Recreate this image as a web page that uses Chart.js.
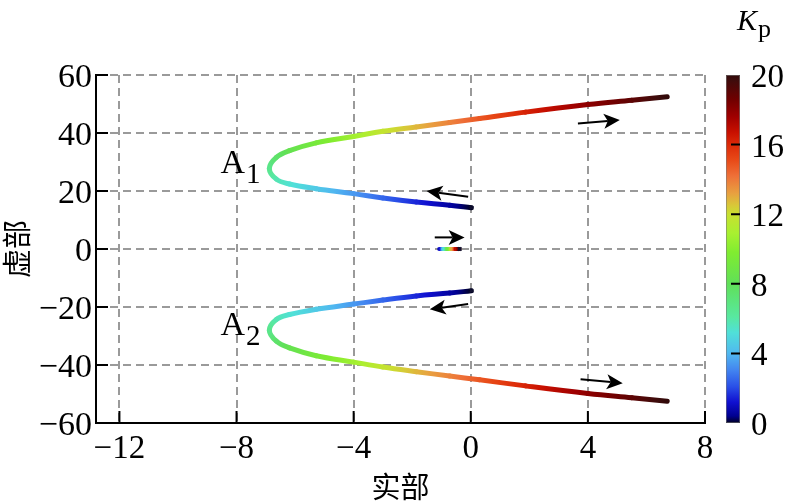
<!DOCTYPE html>
<html>
<head>
<meta charset="utf-8">
<script src="https://cdn.jsdelivr.net/npm/chart.js"></script>
<style>
  body { margin: 0; background: #fff; }
  #wrap { width: 789px; height: 504px; }
</style>
</head>
<body>
<div id="wrap"><canvas id="rl" width="789" height="504"></canvas></div>
<script>
// 根轨迹数据，按 Kp 由小到大排列
// 分支 A1（上）
const a1Re = [0.02, -0.72, -1.86, -3.0, -4.0, -5.28, -6.19, -6.64, -6.88, -6.64, -6.19, -5.28, -4.0, -3.0, -1.86, -0.72, 0.3, 1.87, 4.0, 5.5, 6.71];
const a1Im = [14.2, 15.1, 16.2, 17.6, 19.1, 20.8, 22.4, 24.1, 27.8, 31.6, 33.9, 36.6, 38.8, 40.6, 42.1, 43.6, 45.0, 47.2, 49.8, 51.3, 52.5];
const a1Kp = [0, 0.6, 1.5, 2.5, 3.4, 4.5, 5.3, 5.8, 6.6, 7.5, 8.3, 9.3, 10.7, 11.8, 12.8, 13.8, 14.8, 16.2, 18, 19, 20];
// 分支 A2（下）
const a2Re = [0.02, -0.72, -1.86, -3.0, -4.0, -5.28, -6.19, -6.64, -6.88, -6.64, -6.19, -5.28, -4.0, -3.0, -1.86, -0.72, 0.3, 1.87, 4.0, 5.5, 6.71];
const a2Im = [-14.4, -15.2, -16.2, -17.6, -19.0, -20.8, -22.6, -24.3, -28.0, -31.8, -34.1, -36.8, -39.0, -40.7, -42.3, -43.8, -45.1, -47.2, -49.8, -51.3, -52.5];
const a2Kp = [0, 0.6, 1.5, 2.5, 3.4, 4.5, 5.3, 5.8, 6.6, 7.5, 8.3, 9.3, 10.7, 11.8, 12.8, 13.8, 14.8, 16.2, 18, 19, 20];
// 实轴上的极点
const realRe = [-1.08, -0.94, -0.80, -0.66, -0.52, -0.38];
const realIm = [0, 0, 0, 0, 0, 0];
const realKp = [1, 5, 9, 13, 17, 20];

const xTicks = [-12, -8, -4, 0, 4, 8];
const yTicks = [-60, -40, -20, 0, 20, 40, 60];
const kpTicks = [0, 4, 8, 12, 16, 20];

// 箭头：起点 -> 终点（数据坐标）
const arrowFrom = [[3.66, 43.3], [-0.09, 18.0], [-1.23, 4.0], [-0.09, -19.0], [3.75, -44.9]];
const arrowTo   = [[5.09, 44.5], [-1.51, 20.0], [-0.21, 4.0], [-1.40, -20.8], [5.19, -46.3]];

// 分支标注
const branchNames = ['A', 'A'];
const branchSubs = ['1', '2'];
const branchAt = [[-8.55, 26.2], [-8.55, -29.7]];

// 颜色表 (Kp -> 颜色)
const cmap = [[0, '#000020'], [0.4, '#000090'], [1.2, '#1010d0'], [2.1, '#2a50e8'], [3.1, '#4488f0'],
  [4, '#50b8f0'], [5.2, '#50e0d8'], [6.1, '#58e8a0'], [8, '#60e058'], [9.8, '#80ec30'],
  [10.9, '#a8f030'], [12, '#c8e030'], [12.5, '#d8c838'], [13.2, '#e8a040'], [14.2, '#ee7038'],
  [15.1, '#e84a18'], [16, '#dc2a08'], [16.7, '#c81000'], [17.6, '#a00000'], [18.6, '#700000'],
  [19.75, '#3c0c0c'], [20, '#300808']];

function hex2rgb(h) {
  return [parseInt(h.slice(1, 3), 16), parseInt(h.slice(3, 5), 16), parseInt(h.slice(5, 7), 16)];
}
function kpColor(k) {
  if (k <= cmap[0][0]) return cmap[0][1];
  for (let i = 1; i < cmap.length; i++) {
    if (k <= cmap[i][0]) {
      const t = (k - cmap[i - 1][0]) / (cmap[i][0] - cmap[i - 1][0]);
      const a = hex2rgb(cmap[i - 1][1]), b = hex2rgb(cmap[i][1]);
      const c = a.map((v, j) => Math.round(v + (b[j] - v) * t));
      return 'rgb(' + c.join(',') + ')';
    }
  }
  return cmap[cmap.length - 1][1];
}

const canvas = document.getElementById('rl');
const c2d = canvas.getContext('2d');

// 每一段用渐变色
function segGradient(kp) {
  return function(ctx) {
    const k0 = kp[ctx.p0DataIndex], k1 = kp[ctx.p1DataIndex];
    const g = c2d.createLinearGradient(ctx.p0.x, ctx.p0.y, ctx.p1.x, ctx.p1.y);
    g.addColorStop(0, kpColor(k0));
    cmap.forEach(function(s) {
      const t = (s[0] - k0) / (k1 - k0);
      if (t > 0 && t < 1) g.addColorStop(t, s[1]);
    });
    g.addColorStop(1, kpColor(k1));
    return g;
  };
}

function branch(re, im, kp, width, markAt) {
  return {
    data: re.map((x, i) => ({ x: x, y: im[i] })),
    borderWidth: width,
    borderCapStyle: 'round',
    borderJoinStyle: 'round',
    tension: 0.4,
    pointStyle: 'crossRot',
    pointRadius: ctx => ctx.dataIndex === markAt ? 2.5 : 0,
    pointBorderColor: '#101030',
    pointBorderWidth: 1.5,
    pointHoverRadius: 0,
    segment: {
      borderColor: segGradient(kp),
      // 让每段样式都不同，从而逐段绘制
      borderDashOffset: ctx => ctx.p0DataIndex * 0.001
    }
  };
}

const serif = '"Liberation Serif", serif';
const cjk = '"Noto Sans CJK SC", sans-serif';
const minus = v => String(v).replace('-', '\u2212');

// 刻度文字、内向刻度、色条、箭头、标注
const extras = {
  id: 'extras',
  afterDatasetsDraw(chart) {
    const ctx = chart.ctx;
    const xs = chart.scales.x, ys = chart.scales.y, ks = chart.scales.kp;
    const area = chart.chartArea;
    ctx.save();

    // 箭头
    ctx.strokeStyle = '#000';
    ctx.fillStyle = '#000';
    ctx.lineWidth = 2;
    arrowFrom.forEach(function(p, i) {
      const x0 = xs.getPixelForValue(p[0]), y0 = ys.getPixelForValue(p[1]);
      const x1 = xs.getPixelForValue(arrowTo[i][0]), y1 = ys.getPixelForValue(arrowTo[i][1]);
      const ang = Math.atan2(y1 - y0, x1 - x0);
      const hl = 16, hw = 7.5;
      const bx = x1 - hl * Math.cos(ang), by = y1 - hl * Math.sin(ang);
      ctx.beginPath();
      ctx.moveTo(x0, y0);
      ctx.lineTo(bx + 4 * Math.cos(ang), by + 4 * Math.sin(ang));
      ctx.stroke();
      ctx.beginPath();
      ctx.moveTo(x1, y1);
      ctx.lineTo(bx - hw * Math.sin(ang), by + hw * Math.cos(ang));
      ctx.lineTo(bx + 4 * Math.cos(ang), by + 4 * Math.sin(ang));
      ctx.lineTo(bx + hw * Math.sin(ang), by - hw * Math.cos(ang));
      ctx.closePath();
      ctx.fill();
    });

    // 分支标注 A1 / A2
    ctx.textBaseline = 'alphabetic';
    ctx.textAlign = 'left';
    branchAt.forEach(function(p, i) {
      const x = xs.getPixelForValue(p[0]), y = ys.getPixelForValue(p[1]);
      ctx.font = '34px ' + serif;
      ctx.fillText(branchNames[i], x, y);
      const w = ctx.measureText(branchNames[i]).width;
      ctx.font = '29px ' + serif;
      ctx.fillText(branchSubs[i], x + w + 1, y + 10);
    });

    // 刻度文字
    ctx.font = '33px ' + serif;
    ctx.textAlign = 'center';
    xs.ticks.forEach(function(t) {
      ctx.fillText(minus(t.value), xs.getPixelForValue(t.value), area.bottom + 35);
    });
    ctx.font = '34px ' + serif;
    ctx.textAlign = 'right';
    ys.ticks.forEach(function(t) {
      ctx.fillText(minus(t.value), area.left - 4, ys.getPixelForValue(t.value) + 12);
    });
    ctx.font = '33px ' + serif;
    ctx.textAlign = 'left';
    ks.ticks.forEach(function(t) {
      ctx.fillText(String(t.value), ks.left + 46, ks.getPixelForValue(t.value) + 12);
    });

    // 内向刻度
    ctx.lineWidth = 2;
    ctx.strokeStyle = '#000';
    ctx.beginPath();
    xs.ticks.forEach(function(t) {
      const x = xs.getPixelForValue(t.value);
      ctx.moveTo(x, area.bottom);
      ctx.lineTo(x, area.bottom - 12);
    });
    ys.ticks.forEach(function(t) {
      const y = ys.getPixelForValue(t.value);
      ctx.moveTo(area.left, y);
      ctx.lineTo(area.left + 12, y);
    });
    ctx.stroke();

    // 色条
    const top = ks.getPixelForValue(20), bot = ks.getPixelForValue(0);
    const bx = ks.left + 21, bw = 14;
    const g = ctx.createLinearGradient(0, bot, 0, top);
    cmap.forEach(s => g.addColorStop(s[0] / 20, s[1]));
    ctx.fillStyle = g;
    ctx.fillRect(bx, top, bw, bot - top);
    ctx.strokeStyle = 'rgba(120,120,120,0.6)';
    ctx.lineWidth = 1;
    ctx.strokeRect(bx + 0.5, top + 0.5, bw - 1, bot - top - 1);
    ctx.strokeStyle = '#000';
    ctx.lineWidth = 2;
    ctx.beginPath();
    ks.ticks.forEach(function(t) {
      if (t.value <= 0 || t.value >= 20) return;
      const y = ks.getPixelForValue(t.value);
      ctx.moveTo(bx + 5, y);
      ctx.lineTo(bx + bw, y);
    });
    ctx.stroke();

    // 色条标题 Kp
    ctx.fillStyle = '#000';
    ctx.font = 'italic 30px ' + serif;
    ctx.fillText('K', 737, 30);
    ctx.font = '26px ' + serif;
    ctx.fillText('p', 758, 37);
    ctx.restore();
  }
};

new Chart(canvas, {
  type: 'line',
  data: {
    datasets: [
      branch(a1Re, a1Im, a1Kp, 5, 0),
      branch(a2Re, a2Im, a2Kp, 5, 0),
      branch(realRe, realIm, realKp, 4, realRe.length - 1)
    ]
  },
  options: {
    responsive: false,
    animation: false,
    events: [],
    layout: { padding: { top: 75, left: 0, right: 0, bottom: 0 } },
    plugins: { legend: { display: false }, tooltip: { enabled: false } },
    scales: {
      x: {
        type: 'linear',
        min: -12.8,
        max: 8,
        afterBuildTicks: s => { s.ticks = xTicks.map(v => ({ value: v })); },
        afterFit: s => { s.height = 81; },
        grid: { color: '#9a9a9a', lineWidth: 2, drawTicks: false },
        border: { color: '#000', width: 2, dash: [8, 5] },
        ticks: { display: false },
        title: { display: true, text: '实部', color: '#000', padding: 0, font: { family: cjk, size: 29 } }
      },
      y: {
        type: 'linear',
        min: -60,
        max: 60,
        afterBuildTicks: s => { s.ticks = yTicks.map(v => ({ value: v })); },
        afterFit: s => { s.width = 96; },
        grid: { color: '#9a9a9a', lineWidth: 2, drawTicks: false },
        border: { color: '#000', width: 2, dash: [8, 5] },
        ticks: { display: false },
        title: { display: true, text: '虚部', color: '#000', padding: 0, font: { family: cjk, size: 29 } }
      },
      kp: {
        type: 'linear',
        position: 'right',
        min: 0,
        max: 20,
        afterBuildTicks: s => { s.ticks = kpTicks.map(v => ({ value: v })); },
        afterFit: s => { s.width = 84; },
        grid: { display: false, drawTicks: false },
        border: { display: false },
        ticks: { display: false }
      }
    }
  },
  plugins: [extras]
});
</script>
</body>
</html>
